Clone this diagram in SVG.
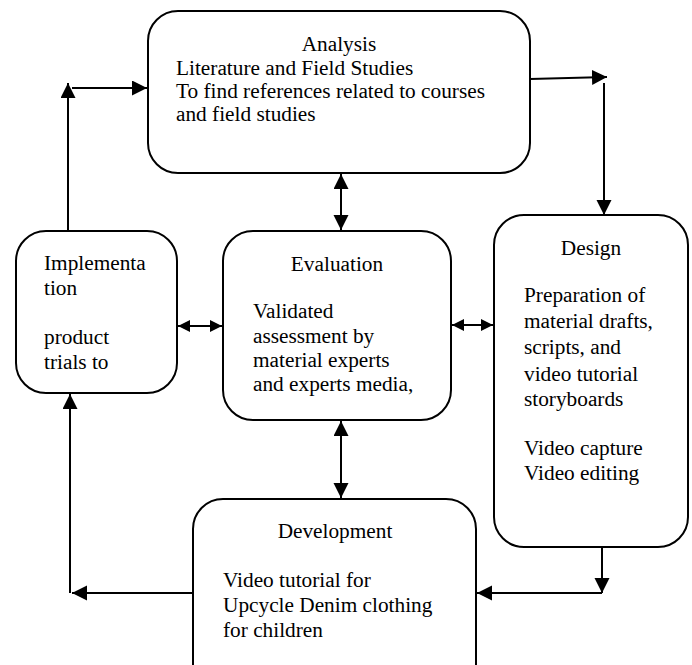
<svg xmlns="http://www.w3.org/2000/svg" width="692" height="665" viewBox="0 0 692 665">
<style>
.box{fill:#fff;stroke:#000;stroke-width:2}
.ln{fill:none;stroke:#000;stroke-width:2}
text{font-family:"Liberation Serif","Times New Roman","DejaVu Serif",serif;font-size:21.3px;fill:#000}
.c{text-anchor:middle}
</style>
<defs>
<marker id="ah" markerUnits="userSpaceOnUse" markerWidth="16" markerHeight="16" refX="15" refY="7.5" orient="auto-start-reverse">
<path d="M0,0 L15,7.5 L0,15 z" fill="#000"/>
</marker>
<marker id="as" markerUnits="userSpaceOnUse" markerWidth="14" markerHeight="14" refX="12" refY="6" orient="auto-start-reverse">
<path d="M0,0 L12,6 L0,12 z" fill="#000"/>
</marker>
</defs>
<rect width="692" height="665" fill="#fff"/>
<g id="connectors">
<line class="ln" x1="68" y1="231" x2="68" y2="83" marker-end="url(#ah)"/>
<line class="ln" x1="72" y1="88" x2="147" y2="88" marker-end="url(#ah)"/>
<line class="ln" x1="530" y1="79" x2="607" y2="77" marker-end="url(#ah)"/>
<line class="ln" x1="604" y1="83" x2="604" y2="215" marker-end="url(#ah)"/>
<line class="ln" x1="341" y1="174" x2="341" y2="230" marker-start="url(#ah)" marker-end="url(#ah)"/>
<line class="ln" x1="178" y1="326" x2="222" y2="326" marker-start="url(#as)" marker-end="url(#as)"/>
<line class="ln" x1="452" y1="325" x2="493" y2="325" marker-start="url(#as)" marker-end="url(#as)"/>
<line class="ln" x1="341" y1="421" x2="341" y2="498" marker-start="url(#ah)" marker-end="url(#ah)"/>
<line class="ln" x1="602" y1="547" x2="602" y2="593" marker-end="url(#ah)"/>
<line class="ln" x1="602" y1="593" x2="477" y2="593" marker-end="url(#ah)"/>
<line class="ln" x1="193" y1="593" x2="72" y2="593" marker-end="url(#ah)"/>
<line class="ln" x1="70" y1="593" x2="70" y2="394" marker-end="url(#ah)"/>
</g>
<g id="analysis">
<rect class="box" x="148" y="11" width="382" height="162" rx="30"/>
<text class="c" x="339" y="51">Analysis</text>
<text x="176" y="75">Literature and Field Studies</text>
<text x="176" y="98">To find references related to courses</text>
<text x="176" y="121">and field studies</text>
</g>
<g id="implementation">
<rect class="box" x="16" y="231" width="161" height="162" rx="30"/>
<text x="44" y="270">Implementa</text>
<text x="44" y="295">tion</text>
<text x="44" y="344">product</text>
<text x="44" y="369">trials to</text>
</g>
<g id="evaluation">
<rect class="box" x="223" y="231" width="228" height="189" rx="30"/>
<text class="c" x="337" y="271">Evaluation</text>
<text x="253" y="318">Validated</text>
<text x="253" y="343">assessment by</text>
<text x="253" y="367">material experts</text>
<text x="253" y="391">and experts media,</text>
</g>
<g id="design">
<rect class="box" x="494" y="215" width="194" height="332" rx="30"/>
<text class="c" x="591" y="255">Design</text>
<text x="524" y="302">Preparation of</text>
<text x="524" y="328">material drafts,</text>
<text x="524" y="354">scripts, and</text>
<text x="524" y="381">video tutorial</text>
<text x="524" y="406">storyboards</text>
<text x="524" y="455">Video capture</text>
<text x="524" y="480">Video editing</text>
</g>
<g id="development">
<rect class="box" x="193" y="499" width="283" height="200" rx="30"/>
<text class="c" x="335" y="538">Development</text>
<text x="223" y="587">Video tutorial for</text>
<text x="223" y="612">Upcycle Denim clothing</text>
<text x="223" y="637">for children</text>
</g>
</svg>
